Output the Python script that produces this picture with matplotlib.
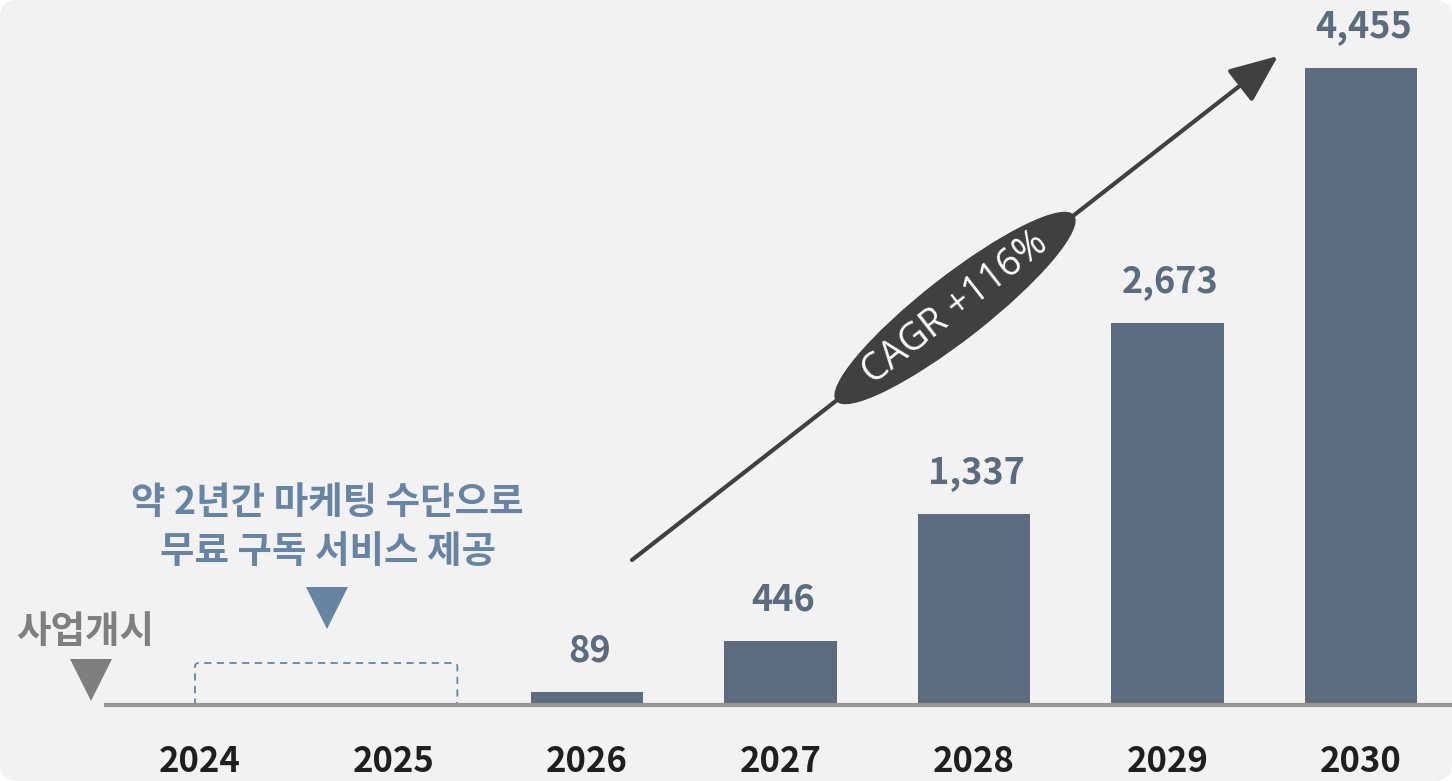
import matplotlib.pyplot as plt
import matplotlib.transforms as mtransforms
from matplotlib.patches import Ellipse, FancyBboxPatch
import numpy as np

plt.rcParams['font.family'] = ['Noto Sans CJK KR', 'DejaVu Sans']

years = ['2024', '2025', '2026', '2027', '2028', '2029', '2030']
values = [None, None, 89, 446, 1337, 2673, 4455]
cagr_label = 'CAGR +116%'
note_label = '약 2년간 마케팅 수단으로\n무료 구독 서비스 제공'
start_label = '사업개시'

bar_color = '#5c6b7d'
note_color = '#6884a3'
dark = '#404040'

W, H = 1452, 781
fig = plt.figure(figsize=(W / 100, H / 100), dpi=100)
fig.patch.set_facecolor('white')
fig.patches.append(FancyBboxPatch((0, 0), W, H, boxstyle='round,pad=0,rounding_size=18',
                                  transform=mtransforms.IdentityTransform(),
                                  facecolor='#f2f2f2', edgecolor='none', zorder=-10))

ax = fig.add_axes([0, 0, 1, 1])
ax.set_facecolor('none')
ax.axis('off')

# pixel layout: year i centred at 200 + 193.5*i, baseline at y=705, 4455 -> 637 px
upp = 4455 / 637
ax.set_xlim(-200 / 193.5, (W - 200) / 193.5)
ax.set_ylim(-(H - 705) * upp, 705 * upp)

x = np.arange(len(years))
for xi, v in zip(x, values):
    if v is None:
        continue
    ax.bar(xi, v, width=0.58, color=bar_color, zorder=2)
    ax.annotate(f'{v:,}', (xi, v), xytext=(2, 30), textcoords='offset points',
                ha='center', va='center', fontsize=26, fontweight='bold',
                color=bar_color, zorder=4)

# baseline
ax.plot([-0.496, 6.5], [0, 0], color='#959595', lw=3, solid_capstyle='butt', zorder=3)

for xi, y in zip(x, years):
    ax.text(xi, -57 * upp, y, ha='center', va='center', fontsize=25,
            fontweight='bold', color='#1f1f1f')

# free-subscription period box
ax.add_patch(FancyBboxPatch((-0.026, 0), 1.356, 42 * upp,
                            boxstyle='round,pad=0,rounding_size=0.02',
                            fill=False, edgecolor=note_color, lw=1.3,
                            linestyle=(0, (4, 3)), mutation_aspect=upp * 193.5,
                            zorder=1))
ax.text(0.66, 178 * upp, note_label, ha='center', va='center', fontsize=27,
        fontweight='bold', color=note_color, linespacing=1.3)
ax.plot(0.658, 97 * upp, marker='v', markersize=30, color=note_color,
        markeredgewidth=0)

ax.text(-0.595, 73 * upp, start_label, ha='center', va='center', fontsize=27,
        fontweight='bold', color='#7f7f7f')
ax.plot(-0.562, 25 * upp, marker='v', markersize=30, color='#7f7f7f',
        markeredgewidth=0)

# CAGR arrow
x0, y0 = (632 - 200) / 193.5, (705 - 560) * upp
x1, y1 = (1278 - 200) / 193.5, (705 - 56) * upp
ax.annotate('', xy=(x1, y1), xytext=(x0, y0),
            arrowprops=dict(arrowstyle='-|>,head_length=1.0,head_width=0.42',
                            lw=3.0, color=dark, mutation_scale=30,
                            shrinkA=0, shrinkB=0), zorder=3)

p0 = ax.transData.transform((x0, y0))
p1 = ax.transData.transform((x1, y1))
ang = np.degrees(np.arctan2(p1[1] - p0[1], p1[0] - p0[0]))
cen = np.array([955, H - 308])
ax.add_patch(Ellipse(cen, 302, 64, angle=ang, facecolor=dark, edgecolor='none',
                     transform=mtransforms.IdentityTransform(), zorder=4,
                     clip_on=False))
fig.text(cen[0] / W, cen[1] / H, cagr_label, rotation=ang, rotation_mode='anchor',
         ha='center', va='center', fontsize=27, color='white', zorder=5,
         family=['Open Sans', 'DejaVu Sans'])

fig.savefig('out.png', dpi=100)
